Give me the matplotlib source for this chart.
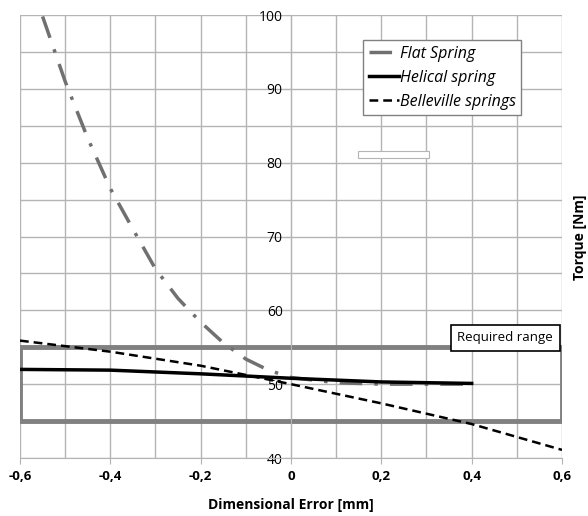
import numpy as np
import matplotlib.pyplot as plt
from matplotlib.patches import Rectangle

# data
flat_x = [-0.55, -0.5, -0.45, -0.4, -0.35, -0.3, -0.25, -0.2, -0.15, -0.1, -0.05, 0.0, 0.1, 0.2, 0.3, 0.4]
flat_y = [99.8, 91.0, 83.3, 76.5, 71.0, 65.6, 61.6, 58.4, 55.6, 53.4, 51.9, 50.9, 50.2, 50.0, 50.0, 50.0]

helical_x = [-0.6, -0.4, -0.2, 0.0, 0.2, 0.4]
helical_y = [52.0, 51.9, 51.4, 50.8, 50.3, 50.1]

belleville_x = [-0.6, -0.4, -0.2, 0.0, 0.2, 0.4, 0.6]
belleville_y = [55.9, 54.4, 52.5, 50.0, 47.4, 44.6, 41.1]

range_low, range_high = 45, 55

plt.rcParams['font.family'] = ['Open Sans', 'DejaVu Sans']

fig = plt.figure(figsize=(5.88, 5.16), dpi=100)
ax = fig.add_axes([20/588, 1-458/516, 542/588, 443/516])

ax.set_xlim(-0.6, 0.6)
ax.set_ylim(40, 100)

ax.set_xticks(np.arange(-0.6, 0.61, 0.2))
ax.set_xticks(np.arange(-0.6, 0.61, 0.1), minor=True)
ax.set_yticks(np.arange(40, 101, 10))
ax.set_yticks(np.arange(40, 101, 5), minor=True)
ax.set_xticklabels(['-0,6', '-0,4', '-0,2', '0', '0,2', '0,4', '0,6'], fontweight='bold', fontsize=9.5)
ax.set_yticklabels(['40', '50', '60', '70', '80', '90', '100'], fontweight='bold', fontsize=9.5)
ax.grid(True, which='both', color='#b4b4b4', linewidth=1)
ax.set_axisbelow(True)

ax.spines['left'].set_position(('data', 0))
for s in ['top', 'right']:
    ax.spines[s].set_visible(False)
ax.spines['left'].set_color('#b4b4b4')
ax.spines['bottom'].set_color('#b4b4b4')
ax.tick_params(axis='y', which='major', length=4, color='#b4b4b4', pad=2)
ax.tick_params(axis='y', which='minor', length=0)
ax.tick_params(axis='x', which='major', length=4, color='#b4b4b4', pad=5)
ax.tick_params(axis='x', which='minor', length=0)

# required range box
ax.add_patch(Rectangle((-0.6, range_low), 1.2, range_high - range_low, fill=False,
                       edgecolor='#808080', linewidth=3.5, zorder=2))

ax.plot(flat_x, flat_y, color='#707070', linewidth=2.5, dashes=(6.5, 3.5, 1, 3.5),
        label='Flat Spring', zorder=3)
ax.plot(helical_x, helical_y, color='black', linewidth=2.5, label='Helical spring', zorder=4)
ax.plot(belleville_x, belleville_y, color='black', linewidth=1.8, dashes=(3.5, 2),
        label='Belleville springs', zorder=4)

leg = ax.legend(loc='upper left', bbox_to_anchor=(0.633, 0.943), fancybox=False,
                framealpha=1, edgecolor='#808080', handlelength=1.9, handletextpad=0.05,
                borderpad=0.35, labelspacing=0.5, borderaxespad=0,
                prop={'style': 'italic', 'size': 11.5})
leg.get_frame().set_linewidth(1)

ax.text(0.474, 56.3, 'Required range', ha='center', va='center', fontsize=9.5,
        bbox=dict(boxstyle='square,pad=0.5', fc='white', ec='black', lw=1.2), zorder=6)

# small empty box under the legend
ax.add_patch(Rectangle((0.624, 0.677), 0.131, 0.017, transform=ax.transAxes,
                       fc='white', ec='#b4b4b4', lw=0.8, zorder=5))

fig.text(291/588, 1-505/516, 'Dimensional Error [mm]', ha='center', va='center',
         fontweight='bold', fontsize=10)
fig.text(580/588, 1-237/516, 'Torque [Nm]', ha='center', va='center',
         rotation=90, fontweight='bold', fontsize=10)

fig.savefig('out.png', dpi=100)
